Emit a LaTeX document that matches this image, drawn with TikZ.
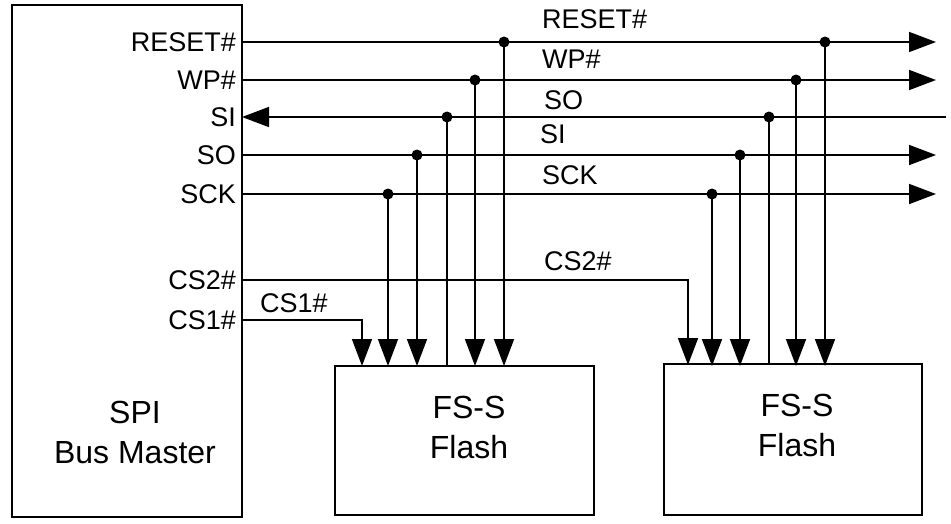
\documentclass[tikz,border=0pt]{standalone}
\usepackage{fontspec}
\setmainfont{Liberation Sans}
\usetikzlibrary{arrows.meta}
\begin{document}
\begin{tikzpicture}[x=1pt,y=-1pt,
  ln/.style={line width=1.6pt},
  arr/.style={ln,-{Triangle[length=27pt,width=20pt]}},
  dot/.style={circle,fill=black,inner sep=0pt,minimum size=11pt},
  box/.style={draw,line width=1.6pt,inner sep=0pt},
  pin/.style={anchor=east,font=\fontsize{27}{30}\selectfont,inner sep=0pt},
  lbl/.style={anchor=base west,font=\fontsize{27}{30}\selectfont,inner sep=0pt},
  big/.style={font=\fontsize{32}{40}\selectfont,align=center}]
\useasboundingbox (0,0) rectangle (951,523);
\node[box,minimum width=230pt,minimum height=512pt] (m) at (127,261) {};
\node[big] (mt) at (135,432) {SPI\\Bus Master};
\node[box,minimum width=259pt,minimum height=149pt] (f1) at (464.5,440.5) {};
\node[big] at (469,427) {FS-S\\Flash};
\node[box,minimum width=258pt,minimum height=151pt] (f2) at (793,439.5) {};
\node[big] at (797,425) {FS-S\\Flash};
% pins
\foreach \n/\t/\y in {reset/RESET\#/42,wp/WP\#/80,si/SI/117,so/SO/155,sck/SCK/194,cstwo/CS2\#/280,csone/CS1\#/320}{
  \node[pin] (p\n) at (236,\y) {\t};
  \coordinate (L\n) at (242,\y);
}
\foreach \n/\y in {reset/42,wp/80,so/155,sck/194}{
  \coordinate (E\n) at (936,\y);
  \draw[arr] (L\n) -- (E\n);
}
\coordinate (Esi) at (946,117);
\draw[arr] (Esi) -- (Lsi);
% labels
\node[lbl] at (542,28) {RESET\#};
\node[lbl] at (542,68) {WP\#};
\node[lbl] at (544,109) {SO};
\node[lbl] at (540,143) {SI};
\node[lbl] at (542,184) {SCK};
\node[lbl] at (544,270) {CS2\#};
\node[lbl] at (260,312) {CS1\#};
% flash drops
\foreach \x/\y in {388/194,417/155,475/80,504/42,712/194,740/155,796/80,825/42}{
  \node[dot] (d\x) at (\x,\y) {};
  \coordinate (t\x) at (\x,366);
  \draw[arr] (d\x.center) -- (t\x);
}
\foreach \x in {447,769}{
  \node[dot] (d\x) at (\x,117) {};
  \coordinate (t\x) at (\x,365);
  \draw[ln] (t\x) -- (d\x.center);
}
\coordinate (c1) at (362,320); \coordinate (c1e) at (362,366);
\draw[arr] (Lcsone) -- (c1) -- (c1e);
\coordinate (c2) at (688,280); \coordinate (c2e) at (688,365);
\draw[arr] (Lcstwo) -- (c2) -- (c2e);
\end{tikzpicture}
\end{document}
